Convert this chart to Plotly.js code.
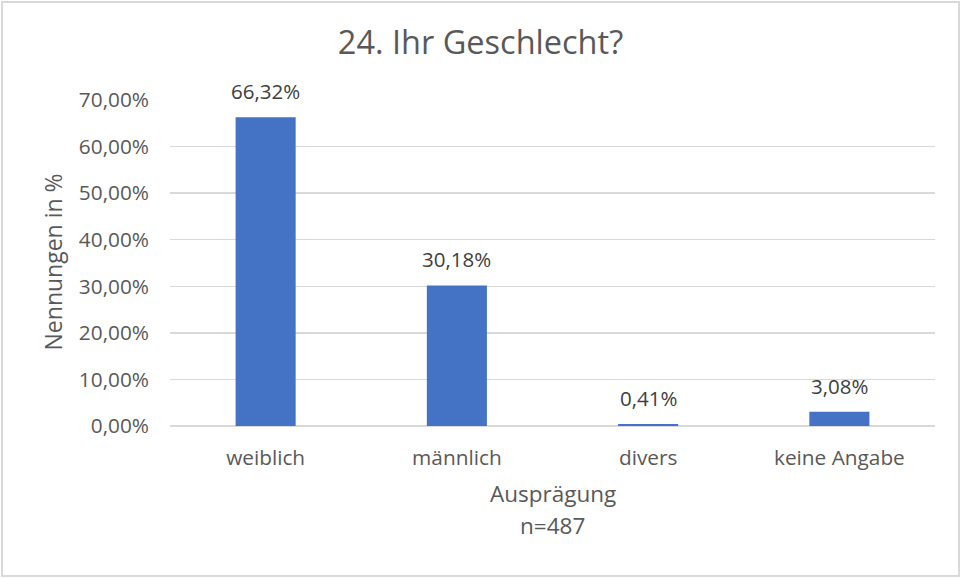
<!DOCTYPE html>
<html>
<head>
<meta charset="utf-8">
<script src="https://cdn.plot.ly/plotly-3.0.1.min.js"></script>
<style>html,body{margin:0;padding:0;background:#fff;}#chart{width:961px;height:578px;}</style>
</head>
<body>
<div id="chart"></div>
<script>
const categories = ["weiblich", "männlich", "divers", "keine Angabe"];
const values = [0.6632, 0.3018, 0.0041, 0.0308];
const yTickValues = [0, 0.1, 0.2, 0.3, 0.4, 0.5, 0.6, 0.7];
const xTitleLines = ["Ausprägung", "n=487"];
const yTitle = "Nennungen in %";
const chartTitle = "24. Ihr Geschlecht?";

const font = "'Open Sans', sans-serif";
const grey = "#595959";
const fmt = v => (v * 100).toFixed(2).replace(".", ",") + "%";
const trace = {
  type: "bar",
  x: categories,
  y: values,
  marker: {color: "#4472C4"},
  hoverinfo: "none"
};
const annotations = categories.map((c, i) => ({
  x: c, y: values[i], xref: "x", yref: "y",
  text: fmt(values[i]), showarrow: false,
  yanchor: "middle", yshift: 26,
  font: {family: font, size: 20.5, color: "#404040"}
}));
annotations.push({xref: "paper", yref: "paper", x: 0.5, y: -0.207, text: xTitleLines[0], showarrow: false, xanchor: "center", yanchor: "middle", font: {family: font, size: 22.5, color: grey}});
annotations.push({xref: "paper", yref: "paper", x: 0.5, y: -0.305, text: xTitleLines[1], showarrow: false, xanchor: "center", yanchor: "middle", font: {family: font, size: 22.5, color: grey}});
annotations.push({xref: "paper", yref: "paper", x: -0.153, y: 0.5046, text: yTitle, textangle: -90, showarrow: false, xanchor: "center", yanchor: "middle", font: {family: font, size: 23, color: grey}});

const layout = {
  width: 961, height: 578,
  separators: ",.",
  margin: {l: 170, r: 26, t: 100, b: 152},
  paper_bgcolor: "#fff", plot_bgcolor: "#fff",
  bargap: 0.686,
  showlegend: false,
  title: {text: chartTitle, font: {family: font, size: 32.5, color: grey}, x: 0.5, xanchor: "center", y: 0.927, yanchor: "middle"},
  xaxis: {
    type: "category",
    tickfont: {family: font, size: 20.8, color: grey},
    showline: false, showgrid: false, ticks: "",
    ticklabelstandoff: 17
  },
  yaxis: {
    range: [0, 0.7],
    tickvals: yTickValues,
    tickformat: ".2%",
    tickfont: {family: font, size: 20.8, color: grey},
    gridcolor: "#D9D9D9", gridwidth: 1.3,
    zeroline: true, zerolinecolor: "#D9D9D9", zerolinewidth: 1.5,
    ticks: "", ticklen: 0, ticklabelstandoff: 20
  },
  annotations: annotations,
  shapes: [{type: "rect", xref: "paper", yref: "paper", x0: -0.2196, x1: 1.0314, y0: -0.460, y1: 1.3006, line: {color: "#D9D9D9", width: 2}, fillcolor: "rgba(0,0,0,0)", layer: "below"}]
};
Plotly.newPlot("chart", [trace], layout, {displayModeBar: false, staticPlot: true});
</script>
</body>
</html>
